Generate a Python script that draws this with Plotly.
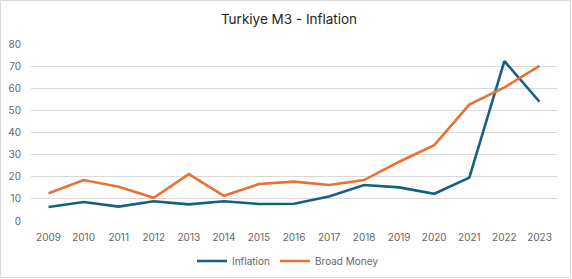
import plotly.graph_objects as go

years = [str(y) for y in range(2009, 2024)]
inflation = [6.3, 8.6, 6.5, 8.9, 7.5, 8.9, 7.7, 7.8, 11.1, 16.3, 15.2, 12.3, 19.6, 72.3, 53.9]
broad_money = [12.5, 18.5, 15.5, 10.5, 21.2, 11.4, 16.7, 17.8, 16.3, 18.5, 26.8, 34.3, 52.6, 60.4, 70.1]
y_ticks = [0, 10, 20, 30, 40, 50, 60, 70, 80]

FONT = "Inter"
TXT = "#666666"

fig = go.Figure()
fig.add_trace(go.Scatter(x=years, y=inflation, mode="lines", name="Inflation",
                         line=dict(color="#156082", width=2.6)))
fig.add_trace(go.Scatter(x=years, y=broad_money, mode="lines", name="Broad Money",
                         line=dict(color="#E97132", width=2.6)))

L, R, T, B = 31, 15, 44, 58
W, H = 572, 279
pw, ph = W - L - R, H - T - B

fig.update_layout(
    width=W, height=H,
    margin=dict(l=L, r=R, t=T, b=B, pad=0, autoexpand=False),
    paper_bgcolor="white", plot_bgcolor="white",
    font=dict(family=FONT, color=TXT, size=10),
    title=dict(text="Turkiye M3 - Inflation", x=289 / W, xanchor="center",
               y=1 - 19 / H, yanchor="middle",
               font=dict(family=FONT, size=13.5, color="#262626")),
    xaxis=dict(type="category", range=[-0.5, len(years) - 0.5], showgrid=False,
               showline=False, ticks="", tickfont=dict(size=10, color=TXT),
               ticklabelstandoff=9),
    yaxis=dict(range=[0, 80], tickvals=y_ticks, showgrid=True, gridcolor="#D9D9D9",
               gridwidth=1, zeroline=False, showline=False, ticks="",
               tickfont=dict(size=10, color=TXT), ticklabelstandoff=9),
    showlegend=True,
    legend=dict(orientation="h", x=288 / W, xref="container", xanchor="center",
                y=(H - 261) / H, yref="container", yanchor="middle",
                font=dict(size=10, color=TXT), itemwidth=30, bgcolor="rgba(0,0,0,0)"),
    shapes=[dict(type="rect", xref="paper", yref="paper",
                 x0=(0.5 - L) / pw, x1=(570.5 - L) / pw,
                 y0=(H - B - 277.5) / ph, y1=(H - B - 0.5) / ph,
                 line=dict(color="#D9D9D9", width=1), fillcolor="rgba(0,0,0,0)",
                 layer="below")],
)

fig.write_html("out.html")
